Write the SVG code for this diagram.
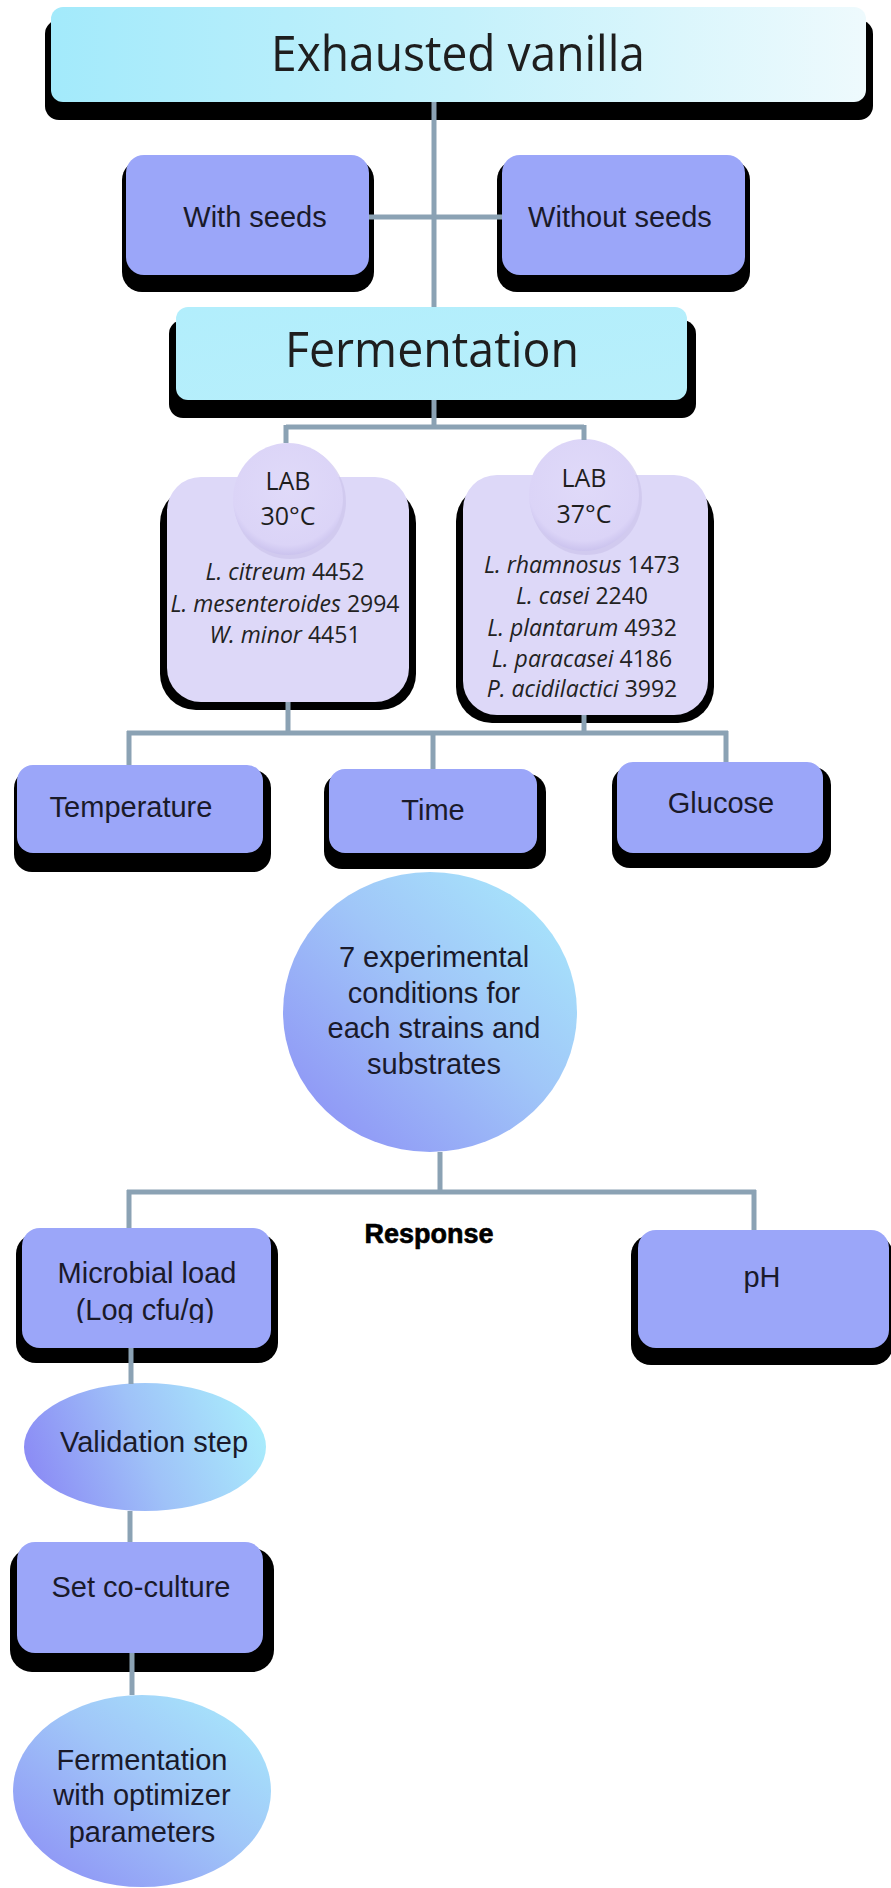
<svg xmlns="http://www.w3.org/2000/svg" width="891" height="1888" viewBox="0 0 891 1888">
<defs>
<linearGradient id="gTop" x1="0" y1="0" x2="1" y2="0">
<stop offset="0" stop-color="#a3eafb"/><stop offset="0.5" stop-color="#c4f1fb"/><stop offset="1" stop-color="#eefafd"/>
</linearGradient>
<linearGradient id="gFerm" x1="0" y1="0" x2="1" y2="1">
<stop offset="0" stop-color="#b2eefc"/><stop offset="1" stop-color="#b8effb"/>
</linearGradient>
<linearGradient id="gDiag" x1="0" y1="1" x2="1" y2="0">
<stop offset="0" stop-color="#8b8bf5"/><stop offset="0.55" stop-color="#a0c6f8"/><stop offset="1" stop-color="#a9ecfc"/>
</linearGradient>
<linearGradient id="gHoriz" x1="0" y1="0.6" x2="1" y2="0.4">
<stop offset="0" stop-color="#8b8bf5"/><stop offset="0.5" stop-color="#9fc2f8"/><stop offset="1" stop-color="#a9ecfc"/>
</linearGradient>
<radialGradient id="gLab" cx="0.5" cy="0.4" r="0.6">
<stop offset="0" stop-color="#e0daf9"/><stop offset="0.85" stop-color="#dbd4f7"/><stop offset="1" stop-color="#cbc3ee"/>
</radialGradient>
<clipPath id="clipLog"><rect x="20" y="1290" width="251" height="33"/></clipPath>
<style>
.shadow{fill:#000}
.blue{fill:#9ba6f9}
.lav{fill:#ddd8f8}
.conn{stroke:#8ba2b4;stroke-width:5;fill:none}
.cal{font-family:"Open Sans","Lato",sans-serif;fill:#1e1e1e;text-anchor:middle}
.ar{font-family:"Liberation Sans",Arial,sans-serif;fill:#1a1a2a;text-anchor:middle;font-size:29px}
.strain{font-family:"Open Sans","Lato",sans-serif;fill:#222;text-anchor:middle;font-size:23px}
.it{font-style:italic}
</style>
</defs>

<g id="node-exhausted">
<rect class="shadow" x="45" y="20" width="828" height="100" rx="14"/>
<rect x="51" y="7" width="815" height="95" rx="12" fill="url(#gTop)"/>
<text class="cal" x="458" y="71" font-size="50" textLength="374" lengthAdjust="spacingAndGlyphs">Exhausted vanilla</text>
</g>

<g id="node-with-seeds">
<rect class="shadow" x="122" y="160" width="252" height="132" rx="20"/>
<rect class="blue" x="126" y="155" width="243" height="120" rx="18"/>
<text class="ar" x="255" y="227">With seeds</text>
</g>

<g id="node-without-seeds">
<rect class="shadow" x="497" y="160" width="253" height="132" rx="20"/>
<rect class="blue" x="502" y="155" width="243" height="120" rx="18"/>
<text class="ar" x="620" y="227">Without seeds</text>
</g>

<g id="node-fermentation">
<rect class="shadow" x="169" y="320" width="527" height="98" rx="14"/>
<rect x="176" y="307" width="511" height="93" rx="12" fill="url(#gFerm)"/>
<text class="cal" x="432" y="367" font-size="50" textLength="294" lengthAdjust="spacingAndGlyphs">Fermentation</text>
</g>

<g id="node-lab30">
<rect class="shadow" x="160" y="487" width="256" height="223" rx="36"/>
<rect class="lav" x="167" y="477" width="242" height="225" rx="34"/>
<ellipse cx="290" cy="502" rx="56" ry="57" fill="#c9c1ea" opacity="0.6"/>
<ellipse cx="288" cy="499" rx="55" ry="56" fill="url(#gLab)"/>
<text class="cal" x="288" y="490" font-size="25">LAB</text>
<text class="cal" x="288" y="525" font-size="25">30°C</text>
<text class="strain" x="285" y="580"><tspan class="it">L. citreum</tspan> 4452</text>
<text class="strain" x="285" y="612"><tspan class="it">L. mesenteroides</tspan>  2994</text>
<text class="strain" x="285" y="643"><tspan class="it">W. minor</tspan> 4451</text>
</g>

<g id="node-lab37">
<rect class="shadow" x="456" y="485" width="258" height="238" rx="36"/>
<rect class="lav" x="463" y="475" width="245" height="240" rx="34"/>
<ellipse cx="586" cy="498" rx="56" ry="57" fill="#c9c1ea" opacity="0.6"/>
<ellipse cx="584" cy="495" rx="55" ry="56" fill="url(#gLab)"/>
<text class="cal" x="584" y="487" font-size="25">LAB</text>
<text class="cal" x="584" y="523" font-size="25">37°C</text>
<text class="strain" x="582" y="573"><tspan class="it">L. rhamnosus</tspan>  1473</text>
<text class="strain" x="582" y="604"><tspan class="it">L. casei</tspan> 2240</text>
<text class="strain" x="582" y="636"><tspan class="it">L. plantarum</tspan> 4932</text>
<text class="strain" x="582" y="667"><tspan class="it">L. paracasei</tspan> 4186</text>
<text class="strain" x="582" y="697"><tspan class="it">P. acidilactici</tspan> 3992</text>
</g>

<g id="node-temperature">
<rect class="shadow" x="14" y="770" width="257" height="102" rx="18"/>
<rect class="blue" x="17" y="765" width="246" height="88" rx="16"/>
<text class="ar" x="131" y="817">Temperature</text>
</g>

<g id="node-time">
<rect class="shadow" x="324" y="774" width="222" height="95" rx="18"/>
<rect class="blue" x="329" y="769" width="208" height="84" rx="16"/>
<text class="ar" x="433" y="820">Time</text>
</g>

<g id="node-glucose">
<rect class="shadow" x="612" y="767" width="219" height="101" rx="18"/>
<rect class="blue" x="617" y="762" width="206" height="91" rx="16"/>
<text class="ar" x="721" y="813">Glucose</text>
</g>

<g id="node-conditions">
<ellipse cx="430" cy="1012" rx="147" ry="140" fill="url(#gDiag)"/>
<text class="ar" x="434" y="967">7 experimental</text>
<text class="ar" x="434" y="1003">conditions for</text>
<text class="ar" x="434" y="1038">each strains and</text>
<text class="ar" x="434" y="1074">substrates</text>
</g>

<g id="label-response">
<text x="429" y="1243" font-family="'Liberation Sans',Arial,sans-serif" font-size="27" font-weight="bold" fill="#000" stroke="#000" stroke-width="0.6" text-anchor="middle">Response</text>
</g>

<g id="node-microbial">
<rect class="shadow" x="16" y="1234" width="262" height="129" rx="20"/>
<rect class="blue" x="22" y="1228" width="249" height="120" rx="18"/>
<text class="ar" x="147" y="1283">Microbial load</text>
<text class="ar" x="145" y="1320" clip-path="url(#clipLog)">(Log cfu/g)</text>
</g>

<g id="node-ph">
<rect class="shadow" x="631" y="1235" width="262" height="130" rx="20"/>
<rect class="blue" x="638" y="1230" width="251" height="118" rx="18"/>
<text class="ar" x="762" y="1287">pH</text>
</g>

<g id="node-validation">
<ellipse cx="145" cy="1447" rx="121" ry="64" fill="url(#gHoriz)"/>
<text class="ar" x="154" y="1452">Validation step</text>
</g>

<g id="node-coculture">
<rect class="shadow" x="10" y="1548" width="264" height="124" rx="22"/>
<rect class="blue" x="17" y="1542" width="246" height="111" rx="18"/>
<text class="ar" x="141" y="1597">Set co-culture</text>
</g>

<g id="node-fermentation-opt">
<ellipse cx="142" cy="1791" rx="129" ry="96" fill="url(#gDiag)"/>
<text class="ar" x="142" y="1770">Fermentation</text>
<text class="ar" x="142" y="1805">with optimizer</text>
<text class="ar" x="142" y="1842">parameters</text>
</g>

<g id="connectors">
<path class="conn" d="M434 102 V307"/>
<path class="conn" d="M369 217 H502"/>
<path class="conn" d="M434 400 V427 M286 427 H584 M286 425 V443 M584 425 V440"/>
<path class="conn" d="M288 702 V733 M584 715 V733 M127 733 H728 M129 731 V765 M433 731 V769 M726 731 V762"/>
<path class="conn" d="M440 1152 V1192 M127 1192 H756 M129 1190 V1228 M754 1190 V1230"/>
<path class="conn" d="M131 1348 V1384"/>
<path class="conn" d="M130 1511 V1542"/>
<path class="conn" d="M132 1653 V1695"/>
</g>
</svg>
